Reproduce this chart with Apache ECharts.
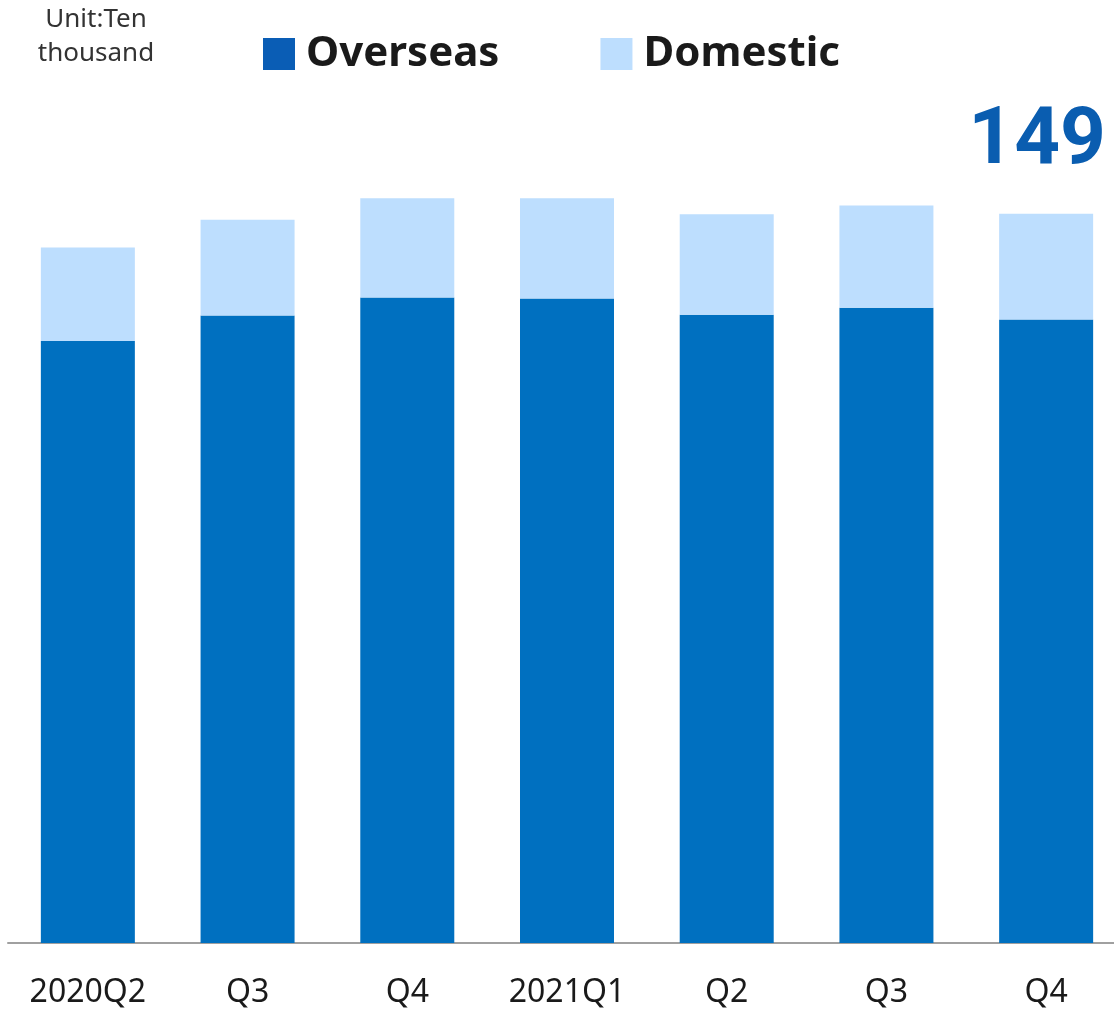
<!DOCTYPE html>
<html>
<head>
<meta charset="utf-8">
<script src="https://cdn.jsdelivr.net/npm/echarts@6/dist/echarts.min.js"></script>
<style>
  html, body { margin: 0; padding: 0; background: #fff; overflow: hidden; }
  #chart { width: 1130px; height: 1009px; }
</style>
</head>
<body>
<div id="chart"></div>
<script>
// Quarterly unit counts (ten thousand), split by market
const quarters = ['2020Q2', 'Q3', 'Q4', '2021Q1', 'Q2', 'Q3', 'Q4'];
const overseas = [123.0, 128.2, 131.9, 131.7, 128.4, 129.8, 127.4];
const domestic = [19.1, 19.6, 20.3, 20.5, 20.5, 20.9, 21.6];

const lastIdx = quarters.length - 1;

const chart = echarts.init(document.getElementById('chart'), null, { renderer: 'canvas' });

chart.setOption({
  animation: false,
  backgroundColor: '#ffffff',
  textStyle: { fontFamily: 'Noto Sans' },
  // the plot runs slightly past the right edge of the visible page
  grid: { left: 8, right: 4, top: 160, bottom: 64, containLabel: false },
  legend: {
    left: 258,
    top: 28,
    itemWidth: 32,
    itemHeight: 32,
    itemGap: 101,
    icon: 'rect',
    textStyle: { fontSize: 42, fontWeight: 'bold', color: '#1a1a1a', padding: [0, 0, 0, 6] },
    data: [
      { name: 'Overseas', itemStyle: { color: '#0a5db5' } },
      { name: 'Domestic', itemStyle: { color: '#bddefe' } }
    ]
  },
  graphic: [{
    type: 'text',
    x: 96,
    y: 3,
    style: {
      text: 'Unit:Ten\nthousand',
      fontSize: 26,
      lineHeight: 34,
      textAlign: 'center',
      fill: '#333',
      fontFamily: 'Noto Sans'
    }
  }],
  xAxis: {
    type: 'category',
    data: quarters,
    axisLine: { lineStyle: { color: '#a0a0a0', width: 2 } },
    axisTick: { show: false },
    axisLabel: { fontSize: 32, color: '#1a1a1a', margin: 34 }
  },
  yAxis: {
    type: 'value',
    min: 0,
    max: 160,
    show: false,
    splitLine: { show: false }
  },
  series: [
    {
      name: 'Overseas',
      type: 'bar',
      stack: 'units',
      barWidth: 94,
      itemStyle: { color: '#0070c0' },
      data: overseas
    },
    {
      name: 'Domestic',
      type: 'bar',
      stack: 'units',
      barWidth: 94,
      itemStyle: { color: '#bddefe' },
      label: {
        show: true,
        position: 'top',
        distance: 31,
        offset: [-9, 0],
        fontSize: 80,
        fontWeight: 'bold',
        fontFamily: 'Roboto',
        color: '#0a5db0',
        formatter: function (p) {
          return p.dataIndex === lastIdx ? String(Math.round(overseas[p.dataIndex] + domestic[p.dataIndex])) : '';
        }
      },
      data: domestic
    }
  ]
});
</script>
</body>
</html>
